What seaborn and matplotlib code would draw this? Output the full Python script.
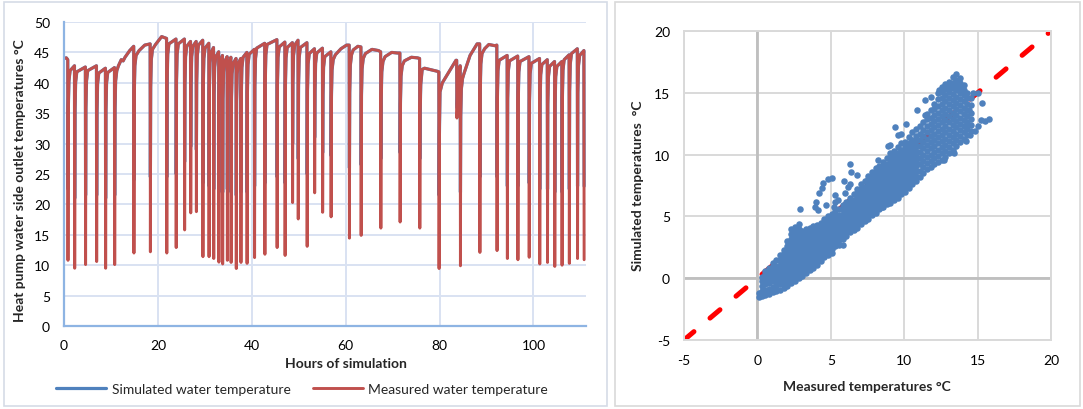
import matplotlib
matplotlib.use('Agg')
import numpy as np
import pandas as pd
import matplotlib.pyplot as plt
import seaborn as sns
from matplotlib.patches import Rectangle

# ---------------------------------------------------------------------------
# Left chart: outlet water temperature
# ---------------------------------------------------------------------------
# hour of each sharp dip (defrost / start-up) and the minimum reached
dip_hours = [0.85, 2.28, 4.6, 6.96, 8.87, 10.8, 14.9, 18.4, 21.9, 23.9,
             25.7, 27.0, 28.2, 29.6, 30.9, 31.9, 33.0, 33.8, 34.8, 35.6,
             36.7, 37.7, 39.0, 40.6, 42.8, 45.4, 47.1, 48.7, 49.9, 51.8,
             53.4, 55.1, 56.9, 60.8, 63.3, 67.5, 71.6, 75.8, 79.9, 83.7,
             84.45, 88.6, 92.25, 94.45, 96.7, 99.1, 101.35, 103.0, 104.55, 106.1,
             107.65, 109.4, 110.8]
dip_measured = [10.8, 9.5, 10.1, 10.6, 9.5, 10.1, 12.0, 12.2, 12.0, 12.9,
                15.8, 18.6, 18.8, 11.4, 11.4, 11.1, 10.5, 10.2, 10.8, 10.45,
                9.45, 10.45, 10.3, 11.25, 11.8, 12.9, 11.6, 20.3, 17.6, 13.1,
                21.9, 18.7, 17.95, 14.45, 14.9, 16.1, 17.1, 16.1, 9.45, 34.2,
                9.9, 12.1, 12.4, 11.1, 10.9, 11.3, 10.2, 10.45, 9.8, 10.0,
                10.3, 11.1, 10.9]
dip_simulated = [22.5, 21.0, 21.5, 21.5, 21.0, 21.5, 24.0, 24.5, 24.5, 25.0,
                 27.0, 29.5, 29.0, 23.5, 23.0, 22.5, 22.0, 22.0, 22.5, 22.0,
                 21.5, 22.0, 22.0, 23.0, 23.5, 24.5, 23.5, 30.0, 27.5, 25.0,
                 31.0, 28.5, 28.0, 26.0, 26.5, 27.5, 28.5, 27.5, 21.5, 36.5,
                 22.0, 24.5, 24.5, 23.0, 23.0, 23.5, 22.5, 22.5, 22.0, 22.0,
                 22.5, 23.0, 23.0]
# temperature just before each dip
peak_before = [43.8, 42.8, 42.6, 42.8, 42.4, 42.5, 46.0, 46.4, 47.3, 47.2,
               47.2, 46.8, 46.8, 47.0, 46.5, 45.8, 45.1, 44.5, 44.3, 44.2,
               44.0, 44.0, 45.0, 45.5, 46.5, 47.1, 46.7, 46.6, 47.0, 46.6,
               45.6, 45.7, 45.1, 46.2, 45.9, 45.1, 44.9, 44.0, 41.8, 43.7,
               42.8, 46.4, 46.2, 44.5, 44.4, 44.3, 44.0, 43.8, 43.5, 43.5,
               44.6, 45.6, 45.3]
# extra points on the longer plateaus
plateau_hours = [0.0, 0.5, 11.6, 12.2, 12.6, 13.0, 14.0, 16.0, 17.2, 19.5,
                 20.8, 57.8, 59.0, 60.2, 61.6, 62.6, 64.2, 65.6, 67.0, 68.4,
                 69.8, 71.0, 72.5, 74.0, 75.3, 76.3, 76.8, 79.5, 80.1, 80.6,
                 83.5, 85.2, 86.5, 88.0, 89.6, 90.5, 91.8]
plateau_temps = [44.0, 44.1, 42.8, 43.8, 43.6, 44.2, 45.3, 45.3, 46.2, 46.3,
                 47.6, 44.6, 45.6, 46.2, 45.4, 46.0, 44.8, 45.5, 45.3, 44.3,
                 45.0, 44.9, 43.6, 44.2, 44.1, 42.2, 42.4, 41.9, 38.5, 40.0,
                 43.7, 41.5, 44.5, 46.4, 45.6, 46.3, 46.1]

# ---------------------------------------------------------------------------
# Right chart: measured vs simulated temperatures (°C), columns of points
# ---------------------------------------------------------------------------
band_low = [
    (0.10, [-1.5, -1.2]),
    (0.30, [-1.45, -1.05, -0.65, -0.25, 0.1]),
    (0.55, [-1.35, -0.95, -0.5, -0.1, 0.3, 0.6]),
    (0.80, [-1.25, -0.85, -0.4, 0.0, 0.45, 0.85]),
    (1.05, [-1.1, -0.7, -0.25, 0.15, 0.55, 0.95, 1.2]),
    (1.30, [-1.05, -0.6, -0.2, 0.2, 0.6, 1.0, 1.45]),
    (1.55, [-0.95, -0.5, -0.1, 0.3, 0.7, 1.1, 1.5, 1.85]),
    (1.80, [-0.8, -0.4, 0.0, 0.4, 0.8, 1.2, 1.6, 2.0, 2.3]),
    (2.05, [-0.6, -0.2, 0.2, 0.6, 1.0, 1.4, 1.8, 2.2, 2.6, 3.0]),
    (2.30, [-0.4, 0.0, 0.4, 0.8, 1.2, 1.6, 2.0, 2.4, 2.8, 3.2, 3.6, 3.95]),
    (2.55, [-0.2, 0.15, 0.55, 0.95, 1.35, 1.75, 2.15, 2.55, 2.95, 3.35, 3.75, 4.15]),
    (2.80, [0.0, 0.4, 0.8, 1.2, 1.6, 2.0, 2.4, 2.8, 3.2, 3.6, 4.0, 4.35]),
]
band_mid = [
    (3.05, [0.2, 0.6, 1.0, 1.4, 1.8, 2.2, 2.6, 3.0, 3.4, 3.8]),
    (3.30, [0.4, 0.8, 1.2, 1.6, 2.0, 2.4, 2.8, 3.2, 3.6, 4.0]),
    (3.55, [0.65, 1.05, 1.45, 1.85, 2.25, 2.65, 3.05, 3.45, 3.85, 4.1]),
    (3.80, [0.85, 1.25, 1.65, 2.05, 2.45, 2.85, 3.25, 3.65, 4.05, 4.25]),
    (4.05, [1.1, 1.5, 1.9, 2.3, 2.7, 3.1, 3.5, 3.9, 4.3]),
    (4.30, [1.4, 1.8, 2.2, 2.6, 3.0, 3.4, 3.8, 4.2, 4.5]),
    (4.55, [1.7, 2.05, 2.45, 2.85, 3.25, 3.65, 4.05, 4.45, 4.75]),
    (4.80, [1.9, 2.3, 2.7, 3.1, 3.5, 3.9, 4.3, 4.7, 5.0]),
    (5.05, [2.0, 2.4, 2.8, 3.2, 3.6, 4.0, 4.4, 4.8, 5.2]),
    (5.30, [2.6, 3.0, 3.4, 3.8, 4.2, 4.6, 5.0, 5.4]),
    (5.55, [2.7, 3.1, 3.5, 3.9, 4.3, 4.7, 5.1, 5.6]),
    (5.80, [2.7, 3.2, 3.6, 4.0, 4.4, 4.8, 5.2, 5.6, 5.9]),
    (6.05, [3.4, 3.8, 4.2, 4.6, 5.0, 5.4, 5.8, 6.2]),
    (6.30, [3.7, 4.1, 4.5, 4.9, 5.3, 5.7, 6.1, 6.5]),
    (6.55, [3.9, 4.3, 4.7, 5.1, 5.5, 5.9, 6.3, 6.8]),
    (6.80, [4.1, 4.5, 4.9, 5.3, 5.7, 6.1, 6.5, 6.9, 7.2]),
]
band_high = [
    (7.05, [4.4, 4.8, 5.2, 5.6, 6.0, 6.4, 6.8, 7.2, 7.6]),
    (7.30, [4.6, 5.0, 5.4, 5.8, 6.2, 6.6, 7.0, 7.4, 7.9]),
    (7.55, [4.8, 5.2, 5.6, 6.0, 6.4, 6.8, 7.2, 7.6, 8.0, 8.3]),
    (7.80, [5.1, 5.5, 5.9, 6.3, 6.7, 7.1, 7.5, 7.9, 8.3, 8.6]),
    (8.05, [5.3, 5.7, 6.1, 6.5, 6.9, 7.3, 7.7, 8.1, 8.5, 8.9]),
    (8.30, [5.6, 6.0, 6.4, 6.8, 7.2, 7.6, 8.0, 8.4, 8.8, 9.1]),
    (8.55, [5.8, 6.2, 6.6, 7.0, 7.4, 7.8, 8.2, 8.6, 9.0, 9.4]),
    (8.80, [6.0, 6.4, 6.8, 7.2, 7.6, 8.0, 8.4, 8.8, 9.2, 9.7]),
    (9.05, [6.1, 6.5, 6.9, 7.3, 7.7, 8.1, 8.5, 8.9, 9.3, 9.7, 10.1]),
    (9.30, [6.3, 6.7, 7.1, 7.5, 7.9, 8.3, 8.7, 9.1, 9.5, 9.9, 10.3]),
    (9.55, [6.5, 6.9, 7.3, 7.7, 8.1, 8.5, 8.9, 9.3, 9.7, 10.1, 10.6]),
    (9.80, [6.8, 7.2, 7.6, 8.0, 8.4, 8.8, 9.2, 9.6, 10.0, 10.4, 10.9]),
    (10.05, [7.0, 7.4, 7.8, 8.2, 8.6, 9.0, 9.4, 9.8, 10.2, 10.6, 11.0]),
    (10.30, [7.3, 7.7, 8.1, 8.5, 8.9, 9.3, 9.7, 10.1, 10.5, 10.9, 11.4]),
    (10.55, [7.6, 8.0, 8.4, 8.8, 9.2, 9.6, 10.0, 10.4, 10.8, 11.2, 11.8]),
    (10.80, [7.9, 8.3, 8.7, 9.1, 9.5, 9.9, 10.3, 10.7, 11.1, 11.5, 12.1]),
    (11.05, [8.2, 8.7, 9.2, 9.7, 10.2, 10.7, 11.2, 11.7, 12.3]),
    (11.30, [8.5, 9.0, 9.5, 10.0, 10.5, 11.0, 11.5, 12.0, 12.6]),
    (11.55, [8.8, 9.3, 9.8, 10.3, 10.8, 11.3, 11.8, 12.3, 12.9, 13.3]),
    (11.80, [9.0, 9.5, 10.0, 10.5, 11.0, 11.5, 12.0, 12.5, 13.0, 13.6]),
    (12.05, [9.2, 9.7, 10.2, 10.7, 11.2, 11.7, 12.2, 12.7, 13.2, 13.7, 14.1]),
    (12.30, [9.4, 9.9, 10.4, 10.9, 11.4, 11.9, 12.4, 12.9, 13.4, 13.9, 14.5, 15.0]),
    (12.55, [9.6, 10.1, 10.6, 11.1, 11.6, 12.1, 12.6, 13.1, 13.6, 14.1, 14.6, 15.1, 15.5]),
    (12.80, [9.8, 10.3, 10.8, 11.3, 11.8, 12.3, 12.8, 13.3, 13.8, 14.3, 14.8, 15.3, 15.7]),
    (13.05, [10.1, 10.6, 11.1, 11.6, 12.1, 12.6, 13.1, 13.6, 14.1, 14.6, 15.1, 15.5, 15.9]),
    (13.30, [10.4, 10.9, 11.4, 11.9, 12.4, 12.9, 13.4, 13.9, 14.4, 14.9, 15.4, 15.8, 16.3]),
    (13.55, [10.7, 11.2, 11.7, 12.2, 12.7, 13.2, 13.7, 14.2, 14.7, 15.2, 15.6, 16.0, 16.5]),
    (13.80, [11.0, 11.5, 12.0, 12.5, 13.0, 13.5, 14.0, 14.5, 15.0, 15.4, 15.8, 16.2]),
    (14.05, [11.3, 11.8, 12.3, 12.8, 13.3, 13.8, 14.3, 14.8, 15.2, 15.6]),
    (14.30, [11.6, 12.1, 12.6, 13.1, 13.6, 14.1, 14.6, 15.0]),
    (14.55, [11.9, 12.4, 12.9, 13.4, 14.0, 14.6]),
]
outlier_measured = [2.9, 3.9, 4.1, 4.0, 4.2, 4.4, 4.5, 4.8, 5.1, 4.65,
                    5.2, 5.3, 5.3, 5.5, 5.9, 6.3, 6.4, 6.8, 6.3, 6.0,
                    6.2, 8.5, 8.2, 8.9, 9.0, 9.4, 9.6, 9.8, 10.1, 10.9,
                    11.4, 11.8, 11.4, 12.4, 14.7, 15.0, 15.3, 15.8, 15.5, 15.2,
                    14.8, 15.0, 14.3, 14.4, 14.5, 14.2, 13.4, 12.7]
outlier_simulated = [5.6, 5.8, 5.5, 6.2, 6.9, 7.3, 7.7, 8.0, 8.1, 5.9,
                     5.8, 6.2, 6.7, 6.3, 7.9, 9.2, 8.6, 8.35, 7.6, 6.9,
                     7.4, 5.8, 9.6, 10.7, 10.8, 12.2, 11.6, 11.7, 12.5, 13.6,
                     14.4, 14.7, 13.2, 15.2, 15.0, 15.0, 14.2, 12.9, 12.7, 12.8,
                     11.9, 12.3, 12.4, 13.6, 11.6, 11.1, 10.1, 9.6]

# recovery shape after each dip (hours after dip, drop below plateau)
rec_dt = [0.07, 0.2, 0.45]
rec_drop = [7.0, 2.5, 0.8]


def build_trace(dip_values):
    plateau = list(zip(plateau_hours, plateau_temps))
    pts = list(plateau)
    for i, (h, low, pk) in enumerate(zip(dip_hours, dip_values, peak_before)):
        pts.append((h - 0.05, pk))
        pts.append((h, low))
        if i + 1 < len(dip_hours):
            nxt = dip_hours[i + 1]
            later = [p for p in plateau if h < p[0] < nxt]
            target_h, target_t = later[0] if later else (nxt - 0.05, peak_before[i + 1])
            for dt, drop in zip(rec_dt, rec_drop):
                if h + dt < target_h - 0.08:
                    pts.append((h + dt, target_t - drop))
    pts.sort()
    return pd.DataFrame(pts, columns=['hour', 'temp'])


def flatten(columns):
    xs, ys = [], []
    for x, col in columns:
        xs += [x] * len(col)
        ys += col
    return xs, ys


sns.set_theme(style='white')
plt.rcParams['font.family'] = ['Lato', 'DejaVu Sans']
plt.rcParams['axes.unicode_minus'] = False

W, H = 1083, 410
fig = plt.figure(figsize=(W / 100, H / 100), dpi=100)


def px_axes(left, top, right, bottom):
    return fig.add_axes([left / W, 1 - bottom / H, (right - left) / W, (bottom - top) / H])


# panel frames
fig.patches.append(Rectangle((4 / W, 3 / H), 603 / W, 404 / H, transform=fig.transFigure,
                             fill=False, ec='#D5DCE6', lw=1.2))
fig.patches.append(Rectangle((615 / W, 3 / H), 465 / W, 404 / H, transform=fig.transFigure,
                             fill=False, ec='#D9D9D9', lw=1.2))

# ---- left: time series ----
ax1 = px_axes(64, 23, 586, 327)
sim_df = build_trace(dip_simulated)
meas_df = build_trace(dip_measured)
sns.lineplot(data=sim_df, x='hour', y='temp', ax=ax1, color='#4F81BD', lw=2.3,
             estimator=None, sort=False, label='Simulated water temperature')
sns.lineplot(data=meas_df, x='hour', y='temp', ax=ax1, color='#C0504D', lw=2.1,
             estimator=None, sort=False, label='Measured water temperature')
handles, labels = ax1.get_legend_handles_labels()
ax1.get_legend().remove()

ax1.set_xlim(0, 111.2)
ax1.set_ylim(0, 50)
ax1.set_xticks(range(0, 101, 20))
ax1.set_yticks(range(0, 51, 5))
ax1.grid(True, color='#D9E2F2', lw=1.4)
for side in ['top', 'right']:
    ax1.spines[side].set_visible(False)
for side in ['left', 'bottom']:
    ax1.spines[side].set_color('#8EB4E3')
    ax1.spines[side].set_linewidth(1.6)
ax1.tick_params(length=0, labelsize=10, colors='#000000')
ax1.tick_params(axis='y', pad=10)
ax1.tick_params(axis='x', pad=9)
ax1.set_xlabel('')
ax1.set_ylabel('')

fig.text(346 / W, 1 - 364 / H, 'Hours of simulation', ha='center', va='center',
         fontsize=10, fontweight='bold')
fig.text(20 / W, 1 - 181 / H, 'Heat pump water side outlet temperatures °C', ha='center',
         va='center', rotation=90, fontsize=10, fontweight='bold')
fig.legend(handles, labels, loc='center', bbox_to_anchor=(302 / W, 1 - 390 / H), ncol=2,
           frameon=False, fontsize=10, handlelength=3.6, handletextpad=0.4,
           columnspacing=1.6)

# ---- right: scatter ----
ax2 = px_axes(684, 32, 1051, 341)
mx, sy = [], []
for cols in (band_low, band_mid, band_high):
    a, b = flatten(cols)
    mx += a
    sy += b
mx += outlier_measured
sy += outlier_simulated
scatter_df = pd.DataFrame({'measured': mx, 'simulated': sy})

ax2.set_xlim(-5, 20)
ax2.set_ylim(-5, 20)
ax2.set_xticks(range(-5, 21, 5))
ax2.set_yticks(range(-5, 21, 5))
ax2.grid(True, color='#D9D9D9', lw=1.4)
for side in ax2.spines.values():
    side.set_color('#D9D9D9')
    side.set_linewidth(1.4)
ax2.axhline(0, color='#BFBFBF', lw=2.0, zorder=1)
ax2.axvline(0, color='#BFBFBF', lw=2.0, zorder=1)
ax2.plot([-5, 20], [-5, 20], color='#FF0000', lw=3.6, dashes=(2.6, 4.2),
         dash_capstyle='round', zorder=2)
sns.scatterplot(data=scatter_df, x='measured', y='simulated', ax=ax2, s=22,
                color='#4F81BD', linewidth=0, zorder=3)
ax2.tick_params(length=0, labelsize=10, colors='#000000')
ax2.tick_params(axis='y', pad=10)
ax2.tick_params(axis='x', pad=10)
ax2.set_xlabel('')
ax2.set_ylabel('')

fig.text(867 / W, 1 - 387 / H, 'Measured temperatures °C', ha='center', va='center',
         fontsize=10, fontweight='bold')
fig.text(638 / W, 1 - 186 / H, 'Simulated temperatures  °C', ha='center', va='center',
         rotation=90, fontsize=10, fontweight='bold')

fig.savefig('out.png', dpi=100)
